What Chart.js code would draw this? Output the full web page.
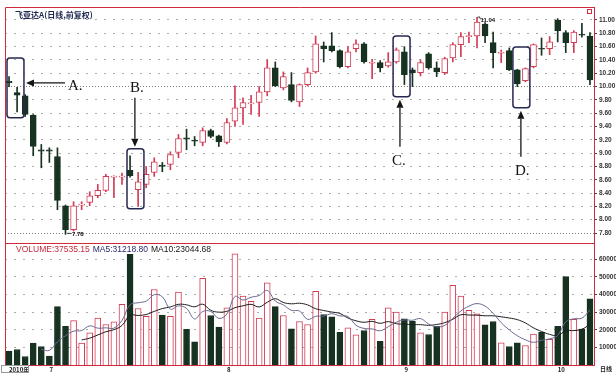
<!DOCTYPE html>
<html>
<head>
<meta charset="utf-8">
<title>飞亚达A 日线</title>
<script src="https://cdn.jsdelivr.net/npm/chart.js@4.4.1/dist/chart.umd.min.js"></script>
<style>
  html, body { margin: 0; padding: 0; background: #fff; }
  canvas { display: block; }
</style>
</head>
<body>
<canvas id="kline" width="616" height="373"></canvas>
<script>
'use strict';

// trading days, 2010
const dates = [
    '06-24', '06-25', '06-28', '06-29', '06-30',
    '07-01', '07-02', '07-05', '07-06', '07-07', '07-08', '07-09', '07-12', '07-13', '07-14', '07-15', '07-16',
    '07-19', '07-20', '07-21', '07-22', '07-23', '07-26', '07-27', '07-28', '07-29', '07-30',
    '08-02', '08-03', '08-04', '08-05', '08-06', '08-09', '08-10', '08-11', '08-12', '08-13',
    '08-16', '08-17', '08-18', '08-19', '08-20', '08-23', '08-24', '08-25', '08-26', '08-27', '08-30', '08-31',
    '09-01', '09-02', '09-03', '09-06', '09-07', '09-08', '09-09', '09-10', '09-13', '09-14',
    '09-15', '09-16', '09-17', '09-20', '09-21', '09-27', '09-28', '09-29', '09-30',
    '10-08', '10-11', '10-12', '10-13', '10-14'
];

const opens = [
    10.08, 9.91, 9.86, 9.57, 9.05, 9.05, 8.95, 8.21, 7.85, 8.22,
    8.26, 8.36, 8.44, 8.64, 8.64, 8.74, 8.45, 8.53, 8.71, 8.82,
    8.83, 9.01, 9.23, 9.19, 9.16, 9.34, 9.26, 9.16, 9.48, 9.68,
    9.74, 9.76, 9.92, 10.28, 9.98, 10.03, 9.77, 10.03, 10.22, 10.61,
    10.61, 10.54, 10.30, 10.57, 10.64, 10.35, 10.36, 10.31, 10.37, 10.52,
    10.25, 10.21, 10.49, 10.28, 10.21, 10.43, 10.63, 10.75, 10.76, 10.94,
    10.66, 10.50, 10.54, 10.25, 10.09, 10.30, 10.57, 10.57, 11.00, 10.81,
    10.66, 10.78, 10.76
];
const highs = [
    10.15, 9.99, 9.88, 9.58, 9.13, 9.08, 9.08, 8.22, 8.27, 8.27,
    8.42, 8.53, 8.68, 8.66, 8.70, 8.96, 8.71, 8.80, 8.93, 8.86,
    9.02, 9.28, 9.36, 9.25, 9.38, 9.36, 9.27, 9.52, 10.01, 9.83,
    9.87, 10.00, 10.40, 10.37, 10.22, 10.21, 10.04, 10.28, 10.76, 10.67,
    10.81, 10.55, 10.60, 10.70, 10.66, 10.41, 10.39, 10.51, 10.58, 10.60,
    10.28, 10.40, 10.51, 10.37, 10.44, 10.66, 10.81, 10.82, 11.04, 10.96,
    10.82, 10.55, 10.58, 10.26, 10.28, 10.64, 10.73, 10.75, 11.02, 10.84,
    10.84, 10.95, 10.81
];
const lows = [
    10.00, 9.62, 9.55, 8.96, 8.78, 8.86, 8.15, 7.78, 7.83, 8.15,
    8.21, 8.33, 8.42, 8.33, 8.53, 8.64, 8.20, 8.48, 8.65, 8.72,
    8.75, 8.93, 9.05, 9.11, 9.11, 9.23, 9.10, 9.14, 9.40, 9.43,
    9.58, 9.55, 9.86, 10.00, 9.95, 9.77, 9.70, 10.01, 10.20, 10.37,
    10.52, 10.28, 10.28, 10.52, 10.35, 10.12, 10.22, 10.29, 10.35, 10.03,
    10.00, 10.16, 10.26, 10.15, 10.18, 10.37, 10.45, 10.66, 10.58, 10.66,
    10.28, 10.36, 10.24, 10.00, 10.07, 10.28, 10.47, 10.48, 10.67, 10.51,
    10.51, 10.74, 10.03
];
const closes = [
    10.06, 9.87, 9.58, 9.10, 9.03, 9.03, 8.29, 7.85, 8.21, 8.23,
    8.36, 8.44, 8.65, 8.65, 8.65, 8.66, 8.57, 8.68, 8.87, 8.80,
    8.98, 9.22, 9.21, 9.18, 9.34, 9.25, 9.17, 9.46, 9.68, 9.76,
    9.75, 9.92, 10.28, 10.01, 10.15, 9.79, 10.03, 10.21, 10.64, 10.57,
    10.54, 10.30, 10.52, 10.64, 10.37, 10.36, 10.28, 10.37, 10.55, 10.18,
    10.21, 10.36, 10.28, 10.22, 10.42, 10.63, 10.75, 10.76, 10.97, 10.76,
    10.51, 10.51, 10.25, 10.04, 10.27, 10.63, 10.56, 10.67, 10.84, 10.66,
    10.82, 10.77, 10.10
];
// 成交量 (手)
const volumes = [
    7840, 8800, 4830, 12400, 10500, 5000, 33200, 22000, 25300, 12400,
    18300, 26600, 23000, 24500, 34400, 62800, 32100, 27600, 42900, 28300,
    27700, 41400, 20200, 13200, 49300, 28100, 21500, 32500, 63200, 39100,
    36100, 26600, 46700, 33200, 28100, 20600, 24700, 23000, 41800, 28700,
    27400, 18600, 21100, 17200, 19600, 25900, 13500, 32500, 30000, 26200,
    24900, 18300, 17300, 21900, 30000, 45200, 39100, 31000, 29100, 22800,
    24700, 12600, 10500, 12600, 11100, 17600, 18500, 14552.8, 22000, 50200,
    25900, 20458.85, 37535.15
];

const priceTicks = [7.8, 8.0, 8.2, 8.4, 8.6, 8.8, 9.0, 9.2, 9.4, 9.6, 9.8, 10.0, 10.2, 10.4, 10.6, 10.8, 11.0];
const volumeTicks = [10000, 20000, 30000, 40000, 50000, 60000];

// A-D marks: box = [from index, to index, top price, bottom price],
// arrow = [index, price] -> [index, price], at = letter position
const notes = [
    { text: 'A.', box: [-0.25, 1.85, 10.43, 9.53], arrow: [6.94, 10.055, 2.1, 10.055], at: [7.3, 9.95] },
    { text: 'B.', box: [14.62, 16.72, 9.065, 8.165], arrow: [15.6, 9.83, 15.6, 9.095], at: [14.99, 9.92] },
    { text: 'C.', box: [47.6, 49.7, 10.76, 9.845], arrow: [48.45, 9.095, 48.45, 9.80], at: [47.45, 8.825] },
    { text: 'D.', box: [62.45, 64.55, 10.595, 9.68], arrow: [63.44, 8.945, 63.44, 9.635], at: [62.7, 8.675] }
];

const RED = '#d23c55';
const FRAME = '#d02a3c';
const DARK = '#173220';
const GRID = '#a9a9a9';

/**
 * Скользящая средняя по n точкам
 */
function movingAverage(arr, n) {
    return arr.map((v, i) => {
        if (i < n - 1) return null;
        let s = 0;
        for (let k = i - n + 1; k <= i; k++) s += arr[k];
        return s / n;
    });
}

const isUp = i => closes[i] >= opens[i];
const ma5 = movingAverage(volumes, 5);
const ma10 = movingAverage(volumes, 10);

function drawArrow(ctx, x1, y1, x2, y2) {
    const ang = Math.atan2(y2 - y1, x2 - x1);
    const len = 8, half = 3.5;
    const bx = x2 - len * Math.cos(ang), by = y2 - len * Math.sin(ang);
    ctx.beginPath();
    ctx.moveTo(x1, y1);
    ctx.lineTo(bx, by);
    ctx.stroke();
    ctx.beginPath();
    ctx.moveTo(x2, y2);
    ctx.lineTo(bx + half * Math.sin(ang), by - half * Math.cos(ang));
    ctx.lineTo(bx - half * Math.sin(ang), by + half * Math.cos(ang));
    ctx.closePath();
    ctx.fill();
}

// белый фон + рамка панелей
const framePlugin = {
    id: 'frame',
    beforeDraw(chart) {
        const ctx = chart.ctx;
        ctx.save();
        ctx.fillStyle = '#fff';
        ctx.fillRect(0, 0, chart.width, chart.height);
        ctx.restore();
    },
    afterDatasetsDraw(chart) {
        const ctx = chart.ctx;
        const a = chart.chartArea;
        const yP = chart.scales.yPrice;
        ctx.save();
        ctx.strokeStyle = FRAME;
        ctx.lineWidth = 1;
        ctx.beginPath();
        const l = Math.round(a.left) + 0.5, t = Math.round(a.top) + 0.5;
        const sep = Math.round(yP.bottom) + 0.5;
        ctx.moveTo(l, a.bottom);
        ctx.lineTo(l, t);
        ctx.lineTo(a.right, t);
        ctx.moveTo(l, sep);
        ctx.lineTo(a.right, sep);
        ctx.stroke();
        // значок в правом верхнем углу
        ctx.strokeRect(Math.round(a.right) - 6.5, t + 2, 4, 4);
        // рамка строки дат
        ctx.strokeStyle = '#999';
        ctx.strokeRect(1.5, Math.round(a.bottom) + 0.5, 27, 7);
        ctx.restore();
    }
};

// подписи, рамки A-D, стрелки, экстремумы
const notesPlugin = {
    id: 'notes',
    afterDraw(chart) {
        const ctx = chart.ctx;
        const x = chart.scales.x, yP = chart.scales.yPrice, yV = chart.scales.yVol;
        const a = chart.chartArea;
        ctx.save();

        // заголовок
        ctx.font = 'bold 8px "Noto Sans CJK SC", sans-serif';
        ctx.fillStyle = '#1e2850';
        ctx.textBaseline = 'middle';
        ctx.textAlign = 'left';
        ctx.fillText('飞亚达A(日线,前复权)', a.left + 10, a.top + 8);

        // легенда объёма
        const last = volumes.length - 1;
        const parts = [
            ['VOLUME:' + volumes[last].toFixed(2), '#c8283a'],
            ['MA5:' + ma5[last].toFixed(2), '#2a2a6e'],
            ['MA10:' + ma10[last].toFixed(2), '#151515']
        ];
        ctx.font = '8.5px "Liberation Sans", Arial, sans-serif';
        let tx = a.left + 11;
        const ty = yV.top + 7;
        parts.forEach(p => {
            ctx.fillStyle = p[1];
            ctx.fillText(p[0], tx, ty);
            tx += ctx.measureText(p[0]).width + 3;
        });

        // максимум и минимум
        const hiIdx = highs.indexOf(Math.max(...highs));
        const loIdx = lows.indexOf(Math.min(...lows));
        ctx.font = 'bold 6px "Liberation Sans", Arial, sans-serif';
        ctx.fillStyle = '#111';
        ctx.strokeStyle = '#111';
        ctx.lineWidth = 0.8;
        let px = x.getPixelForValue(hiIdx), py = yP.getPixelForValue(highs[hiIdx]);
        ctx.beginPath();
        ctx.moveTo(px + 0.5, py);
        ctx.lineTo(px + 2.5, py - 0.5);
        ctx.lineTo(px + 3.5, py + 2);
        ctx.stroke();
        ctx.fillText(highs[hiIdx].toFixed(2), px + 3.5, py + 3.2);
        px = x.getPixelForValue(loIdx);
        py = yP.getPixelForValue(lows[loIdx]);
        ctx.beginPath();
        ctx.moveTo(px + 1.5, py - 1);
        ctx.lineTo(px + 5.5, py - 1);
        ctx.stroke();
        ctx.fillText(lows[loIdx].toFixed(2), px + 6.5, py - 0.5);

        // рамки и стрелки
        ctx.strokeStyle = '#262850';
        ctx.lineWidth = 1.5;
        notes.forEach(n => {
            const bx1 = x.getPixelForValue(n.box[0]), bx2 = x.getPixelForValue(n.box[1]);
            const by1 = yP.getPixelForValue(n.box[2]), by2 = yP.getPixelForValue(n.box[3]);
            ctx.beginPath();
            ctx.roundRect(bx1, by1, bx2 - bx1, by2 - by1, 3);
            ctx.stroke();
        });
        ctx.strokeStyle = '#151515';
        ctx.fillStyle = '#151515';
        ctx.lineWidth = 1.3;
        notes.forEach(n => {
            drawArrow(ctx,
                x.getPixelForValue(n.arrow[0]), yP.getPixelForValue(n.arrow[1]),
                x.getPixelForValue(n.arrow[2]), yP.getPixelForValue(n.arrow[3]));
        });
        ctx.font = '15px "Liberation Serif", "Times New Roman", serif';
        ctx.textBaseline = 'alphabetic';
        notes.forEach(n => {
            ctx.fillText(n.text, x.getPixelForValue(n.at[0]), yP.getPixelForValue(n.at[1]));
        });

        // подпись периода под шкалой
        ctx.font = 'bold 6px "Noto Sans CJK SC", sans-serif';
        ctx.textBaseline = 'middle';
        ctx.fillStyle = '#222';
        ctx.fillText('日线', a.right + 6, a.bottom + 4);
        ctx.restore();
    }
};

const ctx = document.getElementById('kline').getContext('2d');
Chart.defaults.font.family = '"Liberation Sans", Arial, sans-serif';
Chart.defaults.animation = false;

const candleColor = c => isUp(c.dataIndex) ? RED : DARK;

const chart = new Chart(ctx, {
    type: 'bar',
    data: {
        labels: dates,
        datasets: [
            {
                label: 'MA5',
                type: 'line',
                yAxisID: 'yVol',
                data: ma5,
                borderColor: '#6a6a90',
                borderWidth: 1,
                pointRadius: 0,
                tension: 0.4,
                order: 0
            },
            {
                label: 'MA10',
                type: 'line',
                yAxisID: 'yVol',
                data: ma10,
                borderColor: '#1c1c1c',
                borderWidth: 1,
                pointRadius: 0,
                tension: 0.4,
                order: 0
            },
            {
                label: 'body',
                yAxisID: 'yPrice',
                data: opens.map((o, i) => [o, closes[i]]),
                backgroundColor: c => isUp(c.dataIndex) ? '#fff' : DARK,
                borderColor: candleColor,
                borderWidth: 1,
                borderSkipped: false,
                barThickness: 6,
                minBarLength: 1,
                grouped: false,
                order: 1
            },
            {
                label: 'wick',
                yAxisID: 'yPrice',
                data: lows.map((l, i) => [l, highs[i]]),
                backgroundColor: candleColor,
                borderWidth: 0,
                barThickness: 1,
                grouped: false,
                order: 2
            },
            {
                label: 'VOLUME',
                yAxisID: 'yVol',
                data: volumes,
                backgroundColor: c => isUp(c.dataIndex) ? '#fff' : DARK,
                borderColor: candleColor,
                borderWidth: 1,
                borderSkipped: 'start',
                barThickness: 6,
                grouped: false,
                order: 2
            }
        ]
    },
    options: {
        responsive: false,
        layout: { padding: { left: 5, top: 7, right: 0, bottom: 0 } },
        plugins: {
            legend: { display: false },
            tooltip: { enabled: false }
        },
        events: [],
        scales: {
            x: {
                type: 'category',
                offset: true,
                grid: { display: false, drawTicks: false, tickLength: 0 },
                border: { color: FRAME },
                ticks: {
                    autoSkip: false,
                    maxRotation: 0,
                    align: 'start',
                    padding: 1,
                    color: '#222',
                    font: { size: 6, weight: 'bold', family: '"Noto Sans CJK SC", sans-serif' },
                    callback: function (value, index) {
                        if (index === 0) return '2010年';
                        const m = dates[index].slice(0, 2);
                        return m !== dates[index - 1].slice(0, 2) ? String(parseInt(m, 10)) : '';
                    }
                },
                afterFit: s => { s.height = 8; }
            },
            yPrice: {
                type: 'linear',
                position: 'right',
                stack: 'panes',
                stackWeight: 236,
                min: 7.65,
                max: 11.195,
                afterBuildTicks: s => { s.ticks = priceTicks.map(v => ({ value: v })); },
                grid: {
                    color: c => (c.tick && (c.tick.value === 10 || c.tick.value === 7.8)) ? '#7c7c7c' : GRID,
                    tickColor: '#444',
                    tickLength: 3,
                    tickBorderDash: []
                },
                border: {
                    color: FRAME,
                    dash: c => (c.tick && (c.tick.value === 10 || c.tick.value === 7.8)) ? [1, 2] : [2, 7]
                },
                ticks: {
                    autoSkip: false,
                    padding: 2,
                    color: '#333',
                    font: { size: 6.5, weight: 'bold' },
                    callback: v => v.toFixed(2)
                },
                afterFit: s => { s.width = 22; }
            },
            yVol: {
                type: 'linear',
                position: 'right',
                stack: 'panes',
                stackWeight: 122,
                min: 0,
                max: 69300,
                afterBuildTicks: s => { s.ticks = volumeTicks.map(v => ({ value: v })); },
                grid: {
                    color: GRID,
                    tickColor: '#444',
                    tickLength: 3,
                    tickBorderDash: []
                },
                border: { color: FRAME, dash: [2, 7] },
                ticks: {
                    autoSkip: false,
                    padding: 2,
                    color: '#333',
                    font: { size: 6.5, weight: 'bold' },
                    callback: v => String(v)
                },
                afterFit: s => { s.width = 22; }
            }
        }
    },
    plugins: [framePlugin, notesPlugin]
});
</script>
</body>
</html>
